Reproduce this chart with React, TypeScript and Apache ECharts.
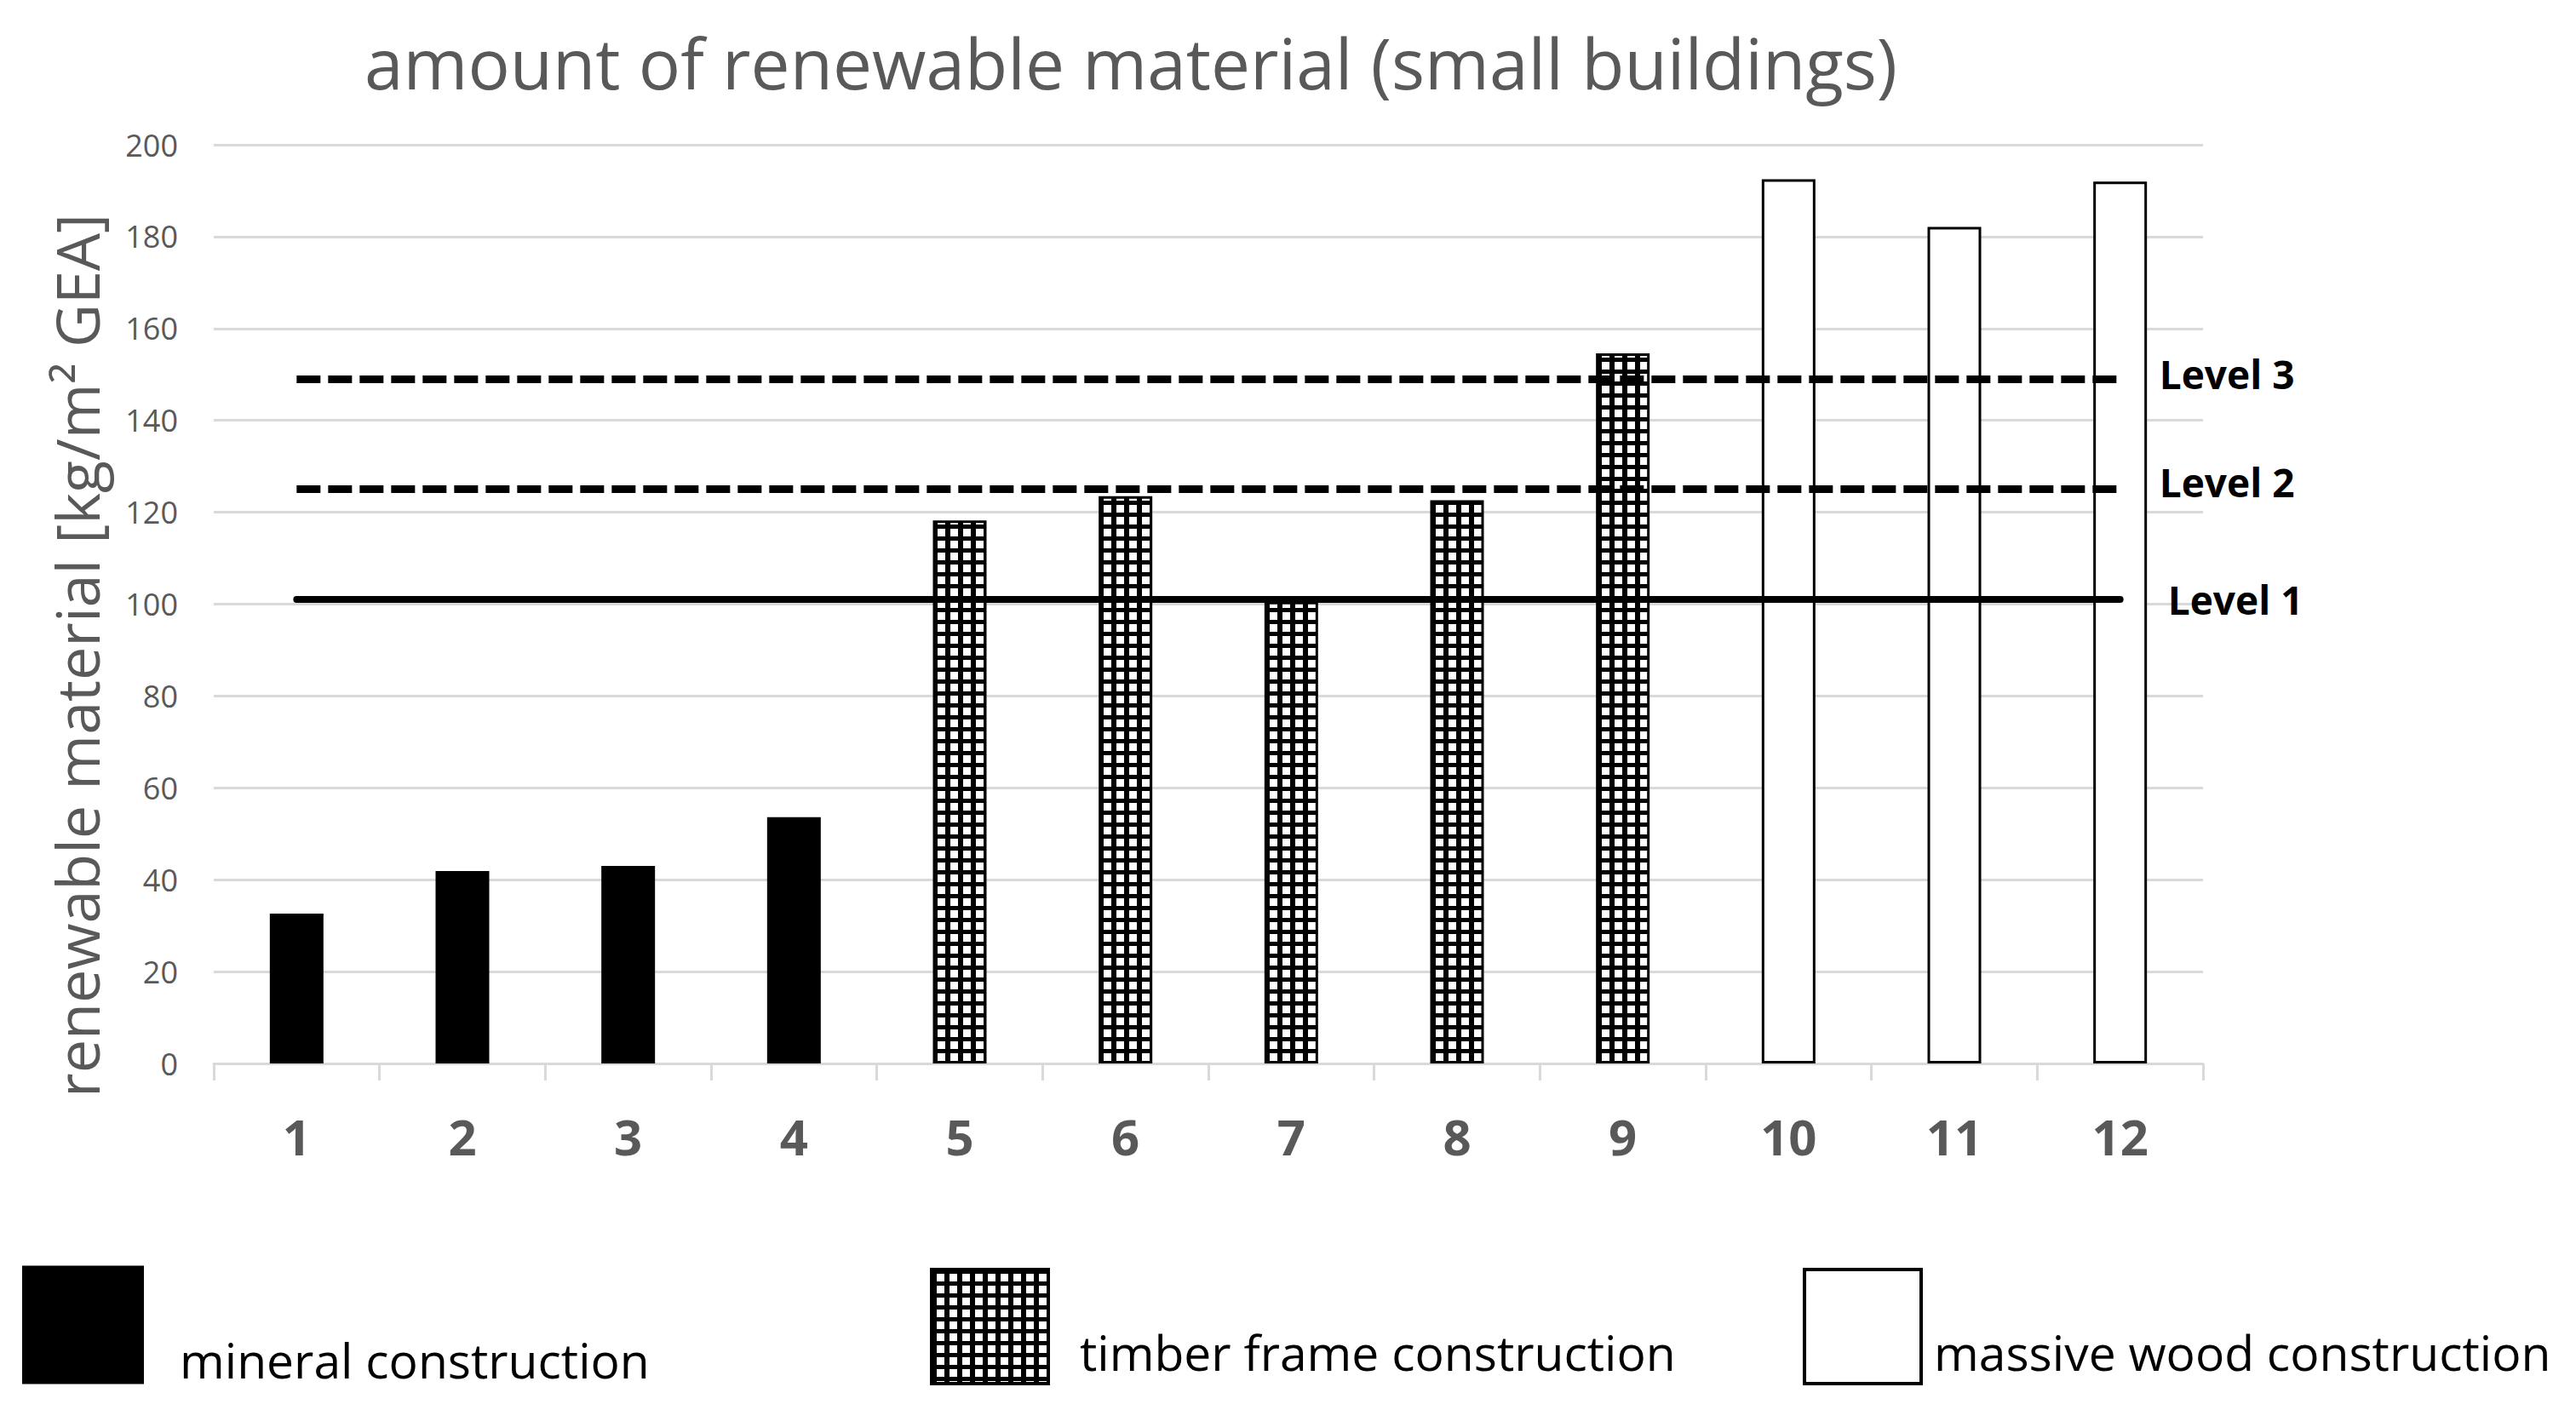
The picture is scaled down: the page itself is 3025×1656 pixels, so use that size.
import React, { useEffect, useRef } from 'react';
import * as echarts from 'echarts';

// building numbers on the x axis
const categories = ['1', '2', '3', '4', '5', '6', '7', '8', '9', '10', '11', '12'];

// kg/m² GEA
const mineralValues = [32.6, 41.9, 43.0, 53.6];
const timberValues = [118.2, 123.5, 100.5, 122.6, 154.6];
const massiveValues = [192.5, 182.1, 192.0];

const levelNames = ['Level 1', 'Level 2', 'Level 3'];
const levelValues = [101, 125, 149];

const seriesNames = ['mineral construction', 'timber frame construction', 'massive wood construction'];

const titleText = 'amount of renewable material (small buildings)';
const yAxisTitle = 'renewable material [kg/m² GEA]';

const FONT = '"Open Sans", "Noto Sans", sans-serif';
const GREY = '#595959';
const GRID_GREY = '#d9d9d9';

// small white squares with black lines, like the Excel "large grid" fill
const makeGridPattern = () => {
  const c = document.createElement('canvas');
  c.width = 15;
  c.height = 14;
  const ctx = c.getContext('2d')!;
  ctx.fillStyle = '#fff';
  ctx.fillRect(0, 0, 15, 14);
  ctx.fillStyle = '#000';
  ctx.fillRect(0, 0, 6, 14);
  ctx.fillRect(0, 0, 15, 5);
  return c;
};

const App: React.FC = () => {
  const chartRef = useRef<HTMLDivElement>(null);

  useEffect(() => {
    if (!chartRef.current) return;
    const chart = echarts.init(chartRef.current, undefined, { renderer: 'svg' });

    const n = categories.length;
    const mineralData = [...mineralValues, ...Array(n - mineralValues.length).fill(null)];
    const timberStart = mineralValues.length;
    const timberData = [
      ...Array(timberStart).fill(null),
      ...timberValues,
      ...Array(n - timberStart - timberValues.length).fill(null),
    ];
    const massiveData = [...Array(n - massiveValues.length).fill(null), ...massiveValues];

    const pattern = { image: makeGridPattern(), repeat: 'repeat' as const };

    const levelOffsets = [0, -9, -6];

    const levelSeries = levelValues.map((v, i) => {
      const solid = i === 0;
      return {
        name: levelNames[i],
        type: 'line',
        data: [],
        markLine: {
          silent: true,
          symbol: ['none', 'none'],
          z: 10,
          lineStyle: {
            color: '#000',
            width: solid ? 8 : 9,
            type: solid ? 'solid' : [28, 9],
            cap: solid ? 'round' : 'butt',
          },
          label: {
            show: true,
            position: 'end',
            formatter: levelNames[i],
            distance: solid ? 56 : 46,
            offset: [0, levelOffsets[i]],
            color: '#000',
            fontFamily: FONT,
            fontWeight: 'bold',
            fontSize: 46,
          },
          data: [[{ coord: [categories[0], v] }, { coord: [categories[n - 1], v] }]],
        },
      };
    });

    // an empty first line pushes the label down by half the line height
    const legendText = (lineHeight: number, padLeft: number) => ({
      color: '#000',
      fontFamily: FONT,
      fontSize: 57,
      lineHeight,
      padding: [0, 0, 0, padLeft],
    });

    const option: any = {
      animation: false,
      backgroundColor: '#fff',
      textStyle: { fontFamily: FONT },
      graphic: [
        {
          type: 'text',
          x: 1328,
          y: 73,
          style: {
            text: titleText,
            fontFamily: FONT,
            fontSize: 82,
            fill: GREY,
            align: 'center',
            verticalAlign: 'middle',
          },
        },
        {
          type: 'text',
          x: 90,
          y: 770,
          rotation: Math.PI / 2,
          style: {
            text: yAxisTitle,
            fontFamily: FONT,
            fontSize: 70,
            fill: GREY,
            align: 'center',
            verticalAlign: 'middle',
          },
        },
      ],
      legend: [
        {
          data: [seriesNames[0]],
          left: 26,
          top: 1475,
          padding: 0,
          icon: 'rect',
          itemWidth: 143,
          itemHeight: 139,
          formatter: (name: string) => '\n' + name,
          textStyle: legendText(81, 37),
        },
        {
          data: [seriesNames[1]],
          left: 1092,
          top: 1489,
          padding: 0,
          icon: 'rect',
          itemWidth: 137,
          itemHeight: 134,
          itemStyle: { borderColor: '#000', borderWidth: 4 },
          formatter: (name: string) => '\n' + name,
          textStyle: legendText(60, 32),
        },
        {
          data: [seriesNames[2]],
          left: 2117,
          top: 1489,
          padding: 0,
          icon: 'rect',
          itemWidth: 137,
          itemHeight: 134,
          itemStyle: { borderColor: '#000', borderWidth: 4 },
          formatter: (name: string) => '\n' + name,
          textStyle: legendText(60, 10),
        },
      ],
      grid: { left: 251, right: 438, top: 170, bottom: 407, containLabel: false },
      xAxis: {
        type: 'category',
        data: categories,
        boundaryGap: true,
        axisLine: { lineStyle: { color: GRID_GREY, width: 3 } },
        axisTick: { show: true, length: 20, lineStyle: { color: GRID_GREY, width: 3 } },
        axisLabel: {
          color: GREY,
          fontFamily: FONT,
          fontWeight: 'bold',
          fontSize: 58,
          margin: 56,
        },
        splitLine: { show: false },
      },
      yAxis: {
        type: 'value',
        min: 0,
        max: 200,
        interval: 20,
        axisLine: { show: false },
        axisTick: { show: false },
        axisLabel: { color: GREY, fontFamily: FONT, fontSize: 36, margin: 42 },
        splitLine: { lineStyle: { color: GRID_GREY, width: 3 } },
      },
      series: [
        {
          name: seriesNames[0],
          type: 'bar',
          data: mineralData,
          barWidth: 63,
          barGap: '-100%',
          itemStyle: { color: '#000', borderColor: '#000', borderWidth: 0 },
        },
        {
          name: seriesNames[1],
          type: 'bar',
          data: timberData,
          barWidth: 63,
          barGap: '-100%',
          itemStyle: { color: pattern, borderColor: '#000', borderWidth: 3 },
        },
        {
          name: seriesNames[2],
          type: 'bar',
          data: massiveData,
          barWidth: 63,
          barGap: '-100%',
          itemStyle: { color: '#fff', borderColor: '#000', borderWidth: 3 },
        },
        ...levelSeries,
      ],
    };

    chart.setOption(option);

    const handleResize = () => chart.resize();
    window.addEventListener('resize', handleResize);
    return () => {
      window.removeEventListener('resize', handleResize);
      chart.dispose();
    };
  }, []);

  return (
    <div
      ref={chartRef}
      style={{ position: 'fixed', left: 0, top: 0, width: '100vw', height: '100vh', background: '#fff' }}
    />
  );
};

export default App;
